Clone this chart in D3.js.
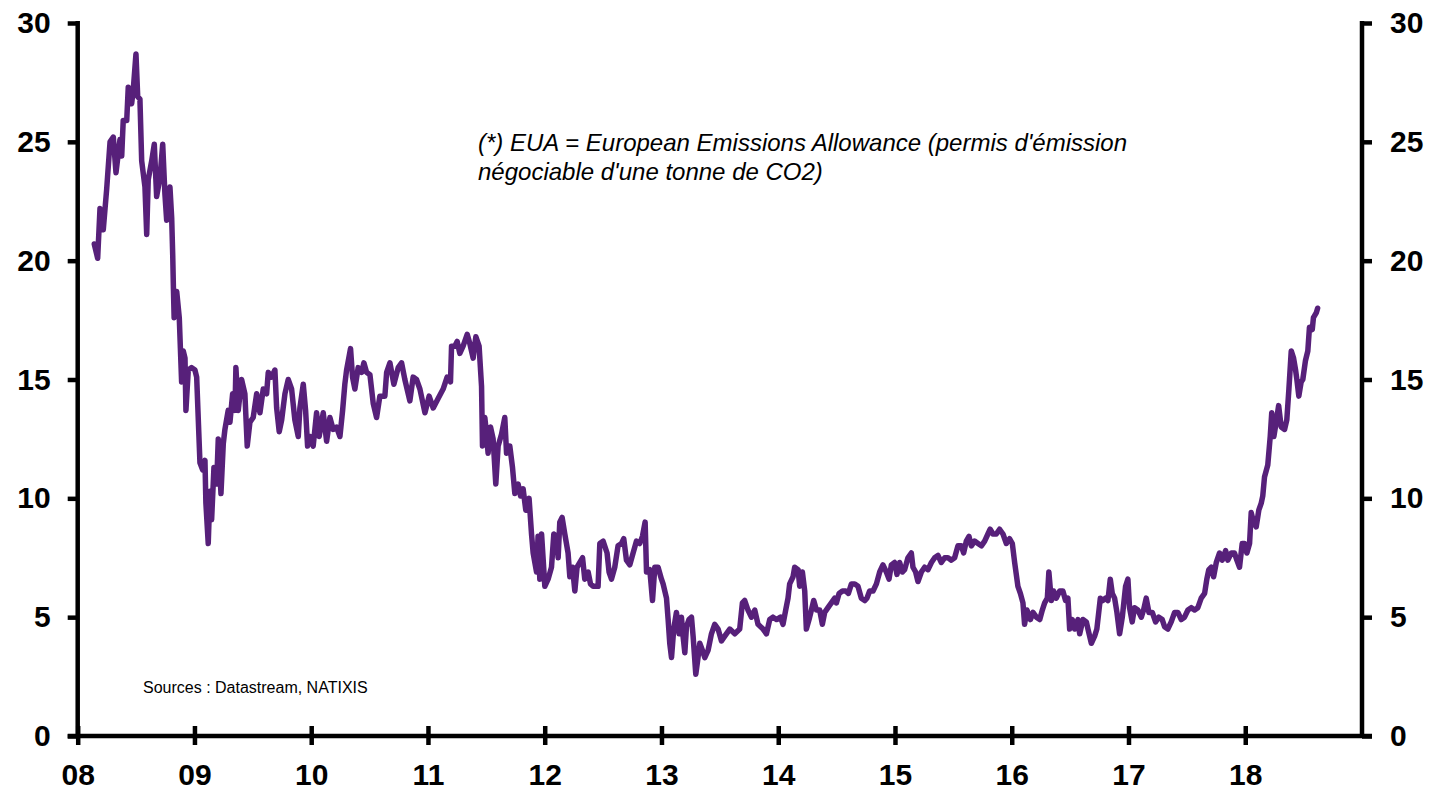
<!DOCTYPE html>
<html>
<head>
<meta charset="utf-8">
<script src="https://cdn.jsdelivr.net/npm/d3@7"></script>
<style>
  html, body { margin: 0; padding: 0; background: #fff; }
  svg { display: block; }
  text { font-family: "Liberation Sans", Arial, sans-serif; }
</style>
</head>
<body>
<svg id="chart" width="1434" height="790"></svg>
<script>
// Decimal years, written as two-digit years (8.5 = mid-2008)
const yr = [
8.142,8.171,8.191,8.219,8.248,8.277,8.305,8.328,8.362,8.377,8.390,8.420,8.433,8.462,8.476,8.499,8.514,8.533,8.548,8.576,8.591,8.604,8.634,8.656,8.676,8.705,8.728,8.747,8.762,8.790,8.805,8.814,8.820,8.826,8.848,8.870,8.890,8.904,8.919,8.927,8.947,8.976,
9.004,9.019,9.047,9.070,9.090,9.098,9.118,9.133,9.147,9.167,9.190,9.204,9.227,9.247,9.261,9.289,9.304,9.327,9.347,9.355,9.375,9.404,9.432,9.452,9.475,9.503,9.533,9.561,9.589,9.618,9.632,9.661,9.689,9.704,9.726,9.747,9.775,9.803,9.832,9.860,9.889,9.903,9.932,9.952,9.969,9.989,
10.017,10.046,10.068,10.103,10.132,10.160,10.188,10.217,10.246,10.269,10.288,10.303,10.337,10.354,10.374,10.402,10.432,10.451,10.474,10.503,10.531,10.560,10.588,10.631,10.646,10.674,10.708,10.745,10.774,10.802,10.845,10.873,10.902,10.931,10.974,
11.010,11.045,11.087,11.130,11.164,11.193,11.202,11.230,11.250,11.273,11.301,11.336,11.359,11.387,11.410,11.438,11.459,11.467,11.487,11.502,11.515,11.536,11.558,11.581,11.601,11.630,11.658,11.673,11.701,11.724,11.744,11.772,11.793,11.815,11.838,11.866,11.887,11.901,11.930,11.943,11.958,11.973,
12.001,12.029,12.058,12.078,12.101,12.115,12.129,12.149,12.172,12.200,12.215,12.238,12.258,12.277,12.301,12.324,12.343,12.372,12.392,12.414,12.457,12.472,12.500,12.534,12.551,12.572,12.600,12.628,12.658,12.677,12.700,12.729,12.757,12.786,12.814,12.837,12.860,12.872,12.900,12.923,12.943,12.971,
13.000,13.014,13.043,13.057,13.071,13.086,13.105,13.128,13.151,13.171,13.185,13.200,13.214,13.236,13.257,13.271,13.294,13.313,13.328,13.351,13.371,13.399,13.428,13.456,13.485,13.514,13.542,13.585,13.628,13.670,13.693,13.713,13.741,13.771,13.799,13.827,13.870,13.899,13.927,13.955,13.985,
14.019,14.041,14.064,14.084,14.098,14.127,14.141,14.170,14.184,14.207,14.227,14.241,14.264,14.284,14.304,14.327,14.355,14.378,14.398,14.426,14.455,14.484,14.498,14.521,14.550,14.578,14.601,14.627,14.655,14.683,14.712,14.741,14.760,14.783,14.812,14.841,14.869,14.897,14.926,14.949,14.969,14.997,
15.017,15.040,15.063,15.083,15.111,15.140,15.154,15.177,15.197,15.226,15.254,15.283,15.312,15.340,15.368,15.397,15.426,15.454,15.483,15.511,15.539,15.568,15.588,15.611,15.634,15.654,15.682,15.711,15.740,15.768,15.796,15.815,15.839,15.868,15.896,15.925,15.954,15.982,
16.005,16.025,16.053,16.074,16.096,16.110,16.130,16.160,16.182,16.211,16.240,16.262,16.282,16.305,16.318,16.339,16.358,16.382,16.410,16.438,16.461,16.481,16.496,16.519,16.539,16.567,16.582,16.610,16.639,16.653,16.682,16.710,16.729,16.759,16.781,16.804,16.824,16.844,16.861,16.881,16.901,16.924,16.947,16.975,16.995,
17.009,17.032,17.052,17.080,17.110,17.129,17.152,17.175,17.204,17.232,17.260,17.289,17.309,17.337,17.366,17.395,17.423,17.452,17.480,17.509,17.538,17.566,17.594,17.623,17.652,17.671,17.688,17.709,17.729,17.752,17.780,17.803,17.832,17.851,17.880,17.908,17.928,17.951,17.974,17.994,
18.014,18.037,18.051,18.071,18.094,18.116,18.137,18.150,18.165,18.193,18.214,18.227,18.245,18.265,18.286,18.308,18.337,18.356,18.374,18.394,18.414,18.431,18.442,18.459,18.479,18.493,18.516,18.536,18.550,18.574,18.584,18.608,18.620
];

// EUA price (EUR per tonne of CO2)
const eua = [
20.7,20.1,22.2,21.3,23.0,25.0,25.2,23.7,25.1,24.4,25.9,25.9,27.3,26.6,27.2,28.7,26.9,26.8,24.2,23.1,21.1,23.4,24.2,24.9,22.7,23.5,24.9,22.8,21.7,23.1,21.8,20.2,18.8,17.6,18.7,17.6,14.9,16.2,15.9,13.7,15.4,15.5,
15.4,15.1,11.5,11.2,11.6,9.8,8.1,10.3,9.1,11.3,10.6,12.5,10.2,12.3,12.9,13.7,13.2,14.4,13.7,15.5,13.7,15.0,14.4,12.2,13.2,13.4,14.4,13.6,14.6,14.4,15.3,15.1,15.4,13.8,12.8,13.3,14.4,15.0,14.6,13.3,12.6,13.8,14.8,13.7,12.2,12.6,
12.2,13.6,12.6,13.6,12.4,13.4,12.9,13.0,12.6,13.7,14.8,15.4,16.3,15.1,14.6,15.5,15.3,15.7,15.3,15.2,14.0,13.4,14.3,14.3,15.3,15.7,14.8,15.5,15.7,15.0,14.1,15.1,15.0,14.6,13.6,
14.3,13.8,14.2,14.6,15.1,14.9,16.4,16.4,16.6,16.1,16.4,16.9,16.5,15.9,16.8,16.4,14.7,12.2,13.4,12.7,11.9,13.0,12.5,10.6,12.2,12.7,13.4,11.9,12.2,11.3,10.2,10.6,10.1,10.4,9.5,10.0,8.5,7.7,6.9,8.4,6.6,8.5,
6.3,6.6,7.1,8.5,8.4,7.5,9.0,9.2,8.5,7.7,6.7,7.1,6.1,7.1,7.3,7.5,6.6,6.9,6.4,6.3,6.3,8.1,8.2,7.7,6.9,6.6,7.1,8.0,8.1,8.3,7.4,7.2,7.7,8.2,8.1,8.4,9.0,6.9,7.0,5.7,7.1,7.1,
6.6,6.4,5.8,4.9,3.9,3.3,4.5,5.2,4.3,5.0,4.2,3.5,4.6,4.9,5.0,4.2,2.6,3.3,3.9,3.6,3.3,3.6,4.3,4.7,4.5,4.0,4.2,4.5,4.3,4.5,5.6,5.7,5.3,5.0,5.3,4.7,4.5,4.3,4.9,5.0,4.9,
5.0,4.7,5.3,5.8,6.4,6.7,7.1,7.0,6.3,6.9,6.1,4.5,4.9,5.3,5.7,5.3,5.3,4.7,5.2,5.4,5.6,5.8,5.6,6.0,6.1,6.1,6.0,6.4,6.4,6.3,5.8,5.7,5.8,6.1,6.1,6.4,6.9,7.2,6.9,6.6,7.2,7.3,
6.8,7.3,6.9,7.0,7.5,7.7,7.1,6.9,6.5,6.9,7.1,7.0,7.3,7.5,7.6,7.3,7.5,7.5,7.4,7.5,8.0,8.0,7.7,8.2,8.4,8.0,8.2,8.1,8.0,8.2,8.5,8.7,8.5,8.5,8.7,8.5,8.1,8.3,
8.1,7.3,6.3,6.0,5.6,4.7,5.3,4.9,5.2,5.0,4.9,5.3,5.6,5.8,6.9,5.7,6.1,5.8,6.1,6.1,5.7,5.8,4.5,4.9,4.5,4.9,4.3,4.9,4.8,4.5,3.9,4.2,4.5,5.8,5.7,5.8,5.7,6.6,6.0,5.8,5.2,4.3,5.0,6.3,6.6,
5.4,4.8,5.4,5.3,5.0,5.3,5.8,5.2,5.2,4.8,5.0,4.9,4.6,4.5,4.8,5.2,5.2,4.9,5.0,5.3,5.4,5.3,5.4,5.8,6.0,6.6,7.0,7.1,6.7,7.3,7.7,7.4,7.8,7.4,7.7,7.7,7.4,7.1,8.1,8.1,
7.7,8.1,9.4,9.0,8.8,9.5,9.8,10.1,10.9,11.4,12.6,13.6,12.6,13.2,13.9,13.0,12.9,13.3,14.6,16.2,15.9,15.4,15.0,14.3,14.9,15.0,15.8,16.2,17.2,17.1,17.6,17.8,18.0
];

const xTicks = [8, 9, 10, 11, 12, 13, 14, 15, 16, 17, 18];
const xTickLabels = ["08", "09", "10", "11", "12", "13", "14", "15", "16", "17", "18"];
const yTicks = [0, 5, 10, 15, 20, 25, 30];
const noteLines = ["(*) EUA = European Emissions Allowance (permis d'émission", "négociable d'une tonne de CO2)"];
const sourceText = "Sources : Datastream, NATIXIS";

const svg = d3.select("#chart");
const L = 77.7, R = 1362, T = 23, B = 736;

const x = d3.scaleLinear().domain([8, 19]).range([L, R]);
const y = d3.scaleLinear().domain([0, 30]).range([B, T]);

const axisColor = "#000";
const axisW = 4.5;
const tickFont = "bold 30px 'Liberation Sans', Arial, sans-serif";

// Left axis
const gl = svg.append("g").attr("transform", `translate(${L},0)`)
  .call(d3.axisLeft(y).tickValues(yTicks).tickSize(10).tickPadding(17).tickFormat(d3.format("d")));
// Right axis
const gr = svg.append("g").attr("transform", `translate(${R},0)`)
  .call(d3.axisRight(y).tickValues(yTicks).tickSize(10).tickPadding(18).tickFormat(d3.format("d")));
// Bottom axis
const gb = svg.append("g").attr("transform", `translate(0,${B})`)
  .call(d3.axisBottom(x).tickValues(xTicks).tickSize(9).tickPadding(16)
    .tickFormat((d, i) => xTickLabels[i]));

[gl, gr, gb].forEach(g => {
  g.select(".domain").remove();
  g.selectAll(".tick line").attr("stroke", axisColor).attr("stroke-width", axisW);
  g.selectAll(".tick text").style("font", tickFont).attr("fill", "#000");
});
gb.selectAll(".tick line").attr("y1", -10);
gb.selectAll(".tick text").attr("y", 49).attr("dy", 0);

// Axis lines
svg.append("line").attr("x1", L).attr("x2", L).attr("y1", y(30) - 2).attr("y2", B)
  .attr("stroke", axisColor).attr("stroke-width", axisW);
svg.append("line").attr("x1", R).attr("x2", R).attr("y1", y(30) - 2).attr("y2", B)
  .attr("stroke", axisColor).attr("stroke-width", axisW);
svg.append("line").attr("x1", L - 10).attr("x2", R + 10).attr("y1", B).attr("y2", B)
  .attr("stroke", axisColor).attr("stroke-width", axisW);

// Series
const pts = yr.map((t, i) => [t, eua[i]]);
const line = d3.line().x(d => x(d[0])).y(d => y(d[1]));
svg.append("path").datum(pts)
  .attr("d", line)
  .attr("fill", "none")
  .attr("stroke", "#57207A")
  .attr("stroke-width", 5.5)
  .attr("stroke-linejoin", "round")
  .attr("stroke-linecap", "round");

// Annotation
svg.append("g").selectAll("text").data(noteLines).join("text")
  .attr("x", 478).attr("y", (d, i) => 151 + i * 29)
  .style("font", "italic 24px 'Liberation Sans', Arial, sans-serif")
  .attr("fill", "#000")
  .text(d => d);

svg.append("text").attr("x", 143).attr("y", 693)
  .style("font", "16px 'Liberation Sans', Arial, sans-serif")
  .attr("fill", "#000")
  .text(sourceText);
</script>
</body>
</html>
